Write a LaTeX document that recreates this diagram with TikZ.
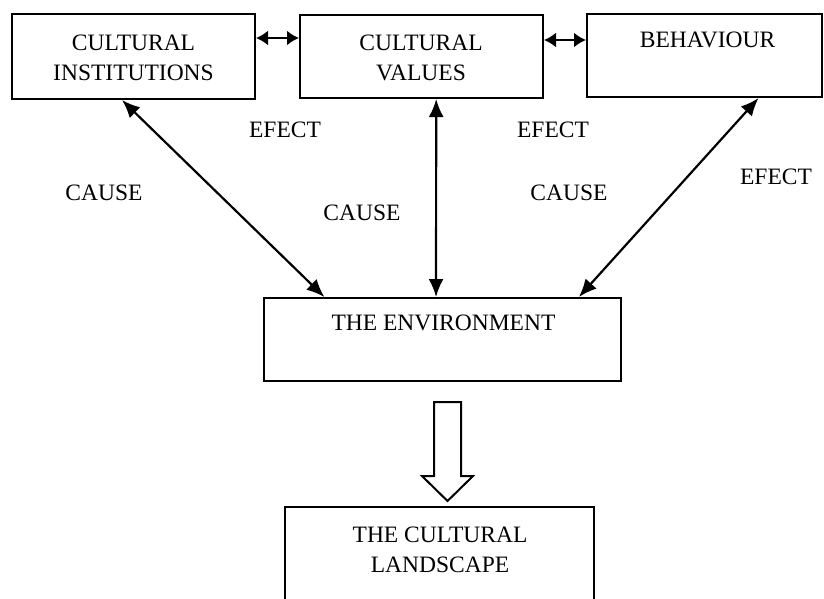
\documentclass[tikz,border=0pt]{standalone}
\usepackage{fontspec}
\setmainfont{Liberation Serif}
\usetikzlibrary{arrows.meta,calc}
\begin{document}
\begin{tikzpicture}[x=1pt,y=-1pt,
  box/.style={draw,line width=2pt,inner sep=0pt},
  txt/.style={font=\fontsize{23.5}{30}\selectfont,align=center,inner sep=0pt},
  link/.style={line width=2.2pt,{Latex[length=18pt,width=15pt]}-{Latex[length=18pt,width=15pt]}},
  short/.style={line width=2.2pt,{Latex[length=12pt,width=15pt]}-{Latex[length=12pt,width=15pt]}}]
\useasboundingbox (0,0) rectangle (824,598);
\clip (0,0) rectangle (824,598);
\fill[white] (0,0) rectangle (824,598);

% top row
\node[box,minimum width=243pt,minimum height=85pt] (inst) at (133.5,56.5) {};
\node[box,minimum width=243pt,minimum height=83pt] (vals) at (421.5,56.5) {};
\node[box,minimum width=235pt,minimum height=83pt] (beh)  at (704.5,55.5) {};
\node[txt] (tinst) at (133.5,57.5) {CULTURAL\\INSTITUTIONS};
\node[txt] (tvals) at (421,57.5) {CULTURAL\\VALUES};
\node[txt] (tbeh)  at (707.5,40) {BEHAVIOUR};

% middle and bottom
\node[box,minimum width=357pt,minimum height=83pt] (env) at (442.5,339.5) {};
\node[txt] (tenv) at (443.5,323) {THE ENVIRONMENT};
\node[box,minimum width=309pt,minimum height=120pt] (land) at (439.5,567) {};
\node[txt] (tland) at (440,550) {THE CULTURAL\\LANDSCAPE};

% links between the top boxes
\draw[short] (inst.east |- 0,38) -- (vals.west |- 0,38);
\draw[short] (vals.east |- 0,40) -- (beh.west |- 0,40);

% links down to the environment
\draw[link] ($(inst.south west)!0.453!(inst.south east)$) -- ($(env.north west)!0.171!(env.north east)$);
\draw[link] ($(vals.south west)!0.56!(vals.south east)$) -- ($(env.north west)!0.482!(env.north east)$);
\draw[link] ($(beh.south west)!0.728!(beh.south east)$) -- ($(env.north west)!0.88!(env.north east)$);

% hollow arrow from the environment to the landscape
\coordinate (top) at (447.5,402);
\draw[line width=2pt,line join=miter,fill=white]
  ($(top)+(-13.5,0)$) -- ($(top)+(13.5,0)$) -- ($(top)+(13.5,74)$) -- ($(top)+(25.5,74)$)
  -- ($(top)+(0,99)$) -- ($(top)+(-25.5,74)$) -- ($(top)+(-13.5,74)$) -- cycle;

% labels
\node[txt] (e1) at (285,130) {EFECT};
\node[txt] (c1) at (104,193) {CAUSE};
\node[txt] (c2) at (362,213) {CAUSE};
\node[txt] (e2) at (553,130) {EFECT};
\node[txt] (c3) at (569,193) {CAUSE};
\node[txt] (e3) at (776,177) {EFECT};
\end{tikzpicture}
\end{document}
